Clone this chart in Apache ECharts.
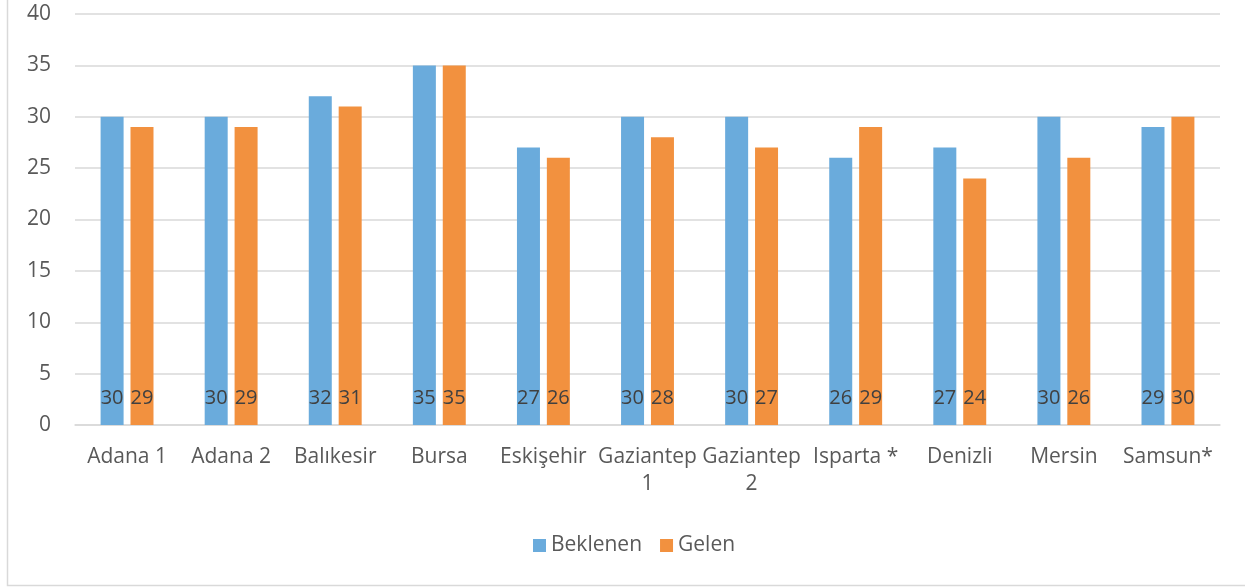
<!DOCTYPE html>
<html>
<head>
<meta charset="utf-8">
<script src="https://cdn.jsdelivr.net/npm/echarts@6/dist/echarts.min.js"></script>
<style>
  html, body { margin: 0; padding: 0; background: #fff; }
  #chart { width: 1245px; height: 587px; }
</style>
</head>
<body>
<div id="chart"></div>
<script>
// kategoriler ve değerler
var categories = ['Adana 1', 'Adana 2', 'Balıkesir', 'Bursa', 'Eskişehir', 'Gaziantep\n1', 'Gaziantep\n2', 'Isparta *', 'Denizli', 'Mersin', 'Samsun*'];
var beklenen = [30, 30, 32, 35, 27, 30, 30, 26, 27, 30, 29];
var gelen = [29, 29, 31, 35, 26, 28, 27, 29, 24, 26, 30];
var seriesNames = ['Beklenen', 'Gelen'];

var textFont = '"Open Sans", "Noto Sans", sans-serif';

var chart = echarts.init(document.getElementById('chart'));

function barSeries(name, data, color) {
    return {
        name: name,
        type: 'bar',
        barWidth: 23,
        barGap: '30%',
        itemStyle: { color: color },
        label: {
            show: true,
            position: 'insideBottom',
            distance: 17,
            color: '#404040',
            fontSize: 20,
            fontFamily: textFont
        },
        data: data
    };
}

var option = {
    animation: false,
    textStyle: { fontFamily: textFont },
    grid: {
        left: 75,
        right: 25,
        top: 14,
        bottom: 162,
        containLabel: false
    },
    legend: {
        data: seriesNames,
        top: 530,
        left: 528,
        icon: 'rect',
        itemWidth: 13,
        itemHeight: 13,
        itemGap: 18,
        textStyle: { color: '#595959', fontSize: 21, fontFamily: textFont, padding: [0, 0, 0, 0] }
    },
    xAxis: {
        type: 'category',
        data: categories,
        axisLine: { lineStyle: { color: '#d9d9d9', width: 1.5 } },
        axisTick: { show: false },
        axisLabel: {
            color: '#595959',
            fontSize: 21,
            fontFamily: textFont,
            margin: 19,
            lineHeight: 27,
            interval: 0
        }
    },
    yAxis: {
        type: 'value',
        min: 0,
        max: 40,
        interval: 5,
        axisLine: { show: false },
        axisTick: { show: false },
        splitLine: { lineStyle: { color: '#d9d9d9', width: 1.5 } },
        axisLabel: {
            color: '#595959',
            fontSize: 21,
            fontFamily: textFont,
            margin: 24
        }
    },
    graphic: [{
        type: 'polyline',
        shape: { points: [[7.5, 0], [7.5, 585.5], [1245, 585.5]] },
        style: { stroke: '#d9d9d9', lineWidth: 1.5, fill: null }
    }],
    series: [
        barSeries(seriesNames[0], beklenen, '#6aabdc'),
        barSeries(seriesNames[1], gelen, '#f2913f')
    ]
};

chart.setOption(option);
</script>
</body>
</html>
